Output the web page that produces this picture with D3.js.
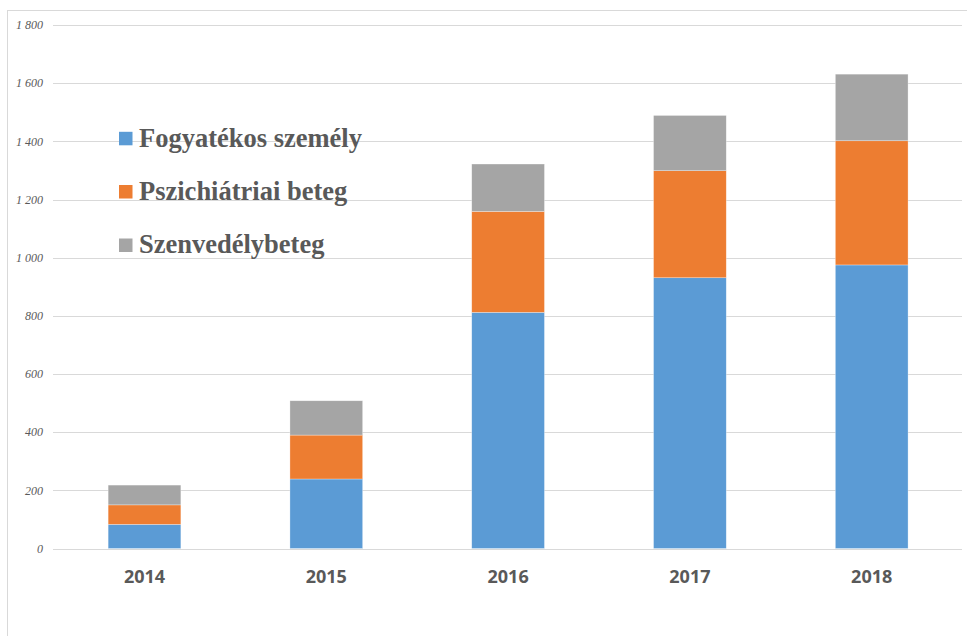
<!DOCTYPE html>
<html>
<head>
<meta charset="utf-8">
<script src="https://cdn.jsdelivr.net/npm/d3@7/dist/d3.min.js"></script>
<style>
  html, body { margin: 0; padding: 0; background: #fff; }
  svg { display: block; }
</style>
</head>
<body>
<svg id="chart" width="967" height="636"></svg>
<script>
const years = ["2014", "2015", "2016", "2017", "2018"];
const seriesNames = ["Fogyatékos személy", "Pszichiátriai beteg", "Szenvedélybeteg"];
const fogyatekos = [83, 239, 812, 931, 975];
const pszichiatriai = [67, 151, 347, 368, 427];
const szenvedely = [68, 118, 163, 190, 229];
const yTicks = [0, 200, 400, 600, 800, 1000, 1200, 1400, 1600, 1800];
const colors = ["#5b9bd5", "#ed7d31", "#a5a5a5"];

const svg = d3.select("#chart");

// outer frame
svg.append("rect")
  .attr("x", 7.5).attr("y", 10.5)
  .attr("width", 1000).attr("height", 700)
  .attr("fill", "none").attr("stroke", "#d9d9d9").attr("stroke-width", 1);

const x = d3.scaleBand().domain(years).range([53.6, 962.6]).paddingInner(0.6).paddingOuter(0.3);
const y = d3.scaleLinear().domain([0, 1800]).range([548.5, 25]);

// gridlines
svg.append("g").selectAll("line").data(yTicks).join("line")
  .attr("x1", 53).attr("x2", 962)
  .attr("y1", d => Math.round(y(d)) + 0.5).attr("y2", d => Math.round(y(d)) + 0.5)
  .attr("stroke", "#d9d9d9").attr("stroke-width", 1.2);

// y labels
const fmt = d => {
  const s = String(d);
  return s.length > 3 ? s.slice(0, s.length - 3) + " " + s.slice(-3) : s;
};
svg.append("g").selectAll("text").data(yTicks).join("text")
  .attr("x", 43).attr("y", d => y(d))
  .attr("dy", "0.35em")
  .attr("text-anchor", "end")
  .attr("font-family", "'Liberation Serif', 'Times New Roman', serif")
  .attr("font-style", "italic")
  .attr("font-size", 12)
  .attr("fill", "#595959")
  .text(fmt);

// stacked data
const table = years.map((yr, i) => ({
  year: yr,
  [seriesNames[0]]: fogyatekos[i],
  [seriesNames[1]]: pszichiatriai[i],
  [seriesNames[2]]: szenvedely[i]
}));
const stacked = d3.stack().keys(seriesNames)(table);

svg.append("g").selectAll("g").data(stacked).join("g")
  .attr("fill", (d, i) => colors[i])
  .selectAll("rect").data(d => d).join("rect")
  .attr("x", d => x(d.data.year))
  .attr("width", x.bandwidth())
  .attr("y", d => y(d[1]))
  .attr("height", d => y(d[0]) - y(d[1]))
  .attr("stroke", "#ffffff").attr("stroke-opacity", 0.5).attr("stroke-width", 0.6);

// x labels
svg.append("g").selectAll("text").data(years).join("text")
  .attr("x", d => x(d) + x.bandwidth() / 2)
  .attr("y", 583)
  .attr("text-anchor", "middle")
  .attr("font-family", "'Open Sans', 'Liberation Sans', sans-serif")
  .attr("font-weight", "bold")
  .attr("font-size", 18)
  .attr("fill", "#595959")
  .text(d => d);

// legend
const legendY = [138.3, 191.5, 245];
const lg = svg.append("g").selectAll("g").data(seriesNames).join("g");
lg.append("rect")
  .attr("x", 119).attr("y", (d, i) => legendY[i] - 6.5)
  .attr("width", 13.5).attr("height", 13.5)
  .attr("fill", (d, i) => colors[i]);
lg.append("text")
  .attr("x", 139).attr("y", (d, i) => legendY[i] + 8.3)
  .attr("font-family", "'Liberation Serif', 'Times New Roman', serif")
  .attr("font-weight", 700)
  .attr("font-size", 26.5)
  .attr("fill", "#595959")
  .text(d => d);
</script>
</body>
</html>
